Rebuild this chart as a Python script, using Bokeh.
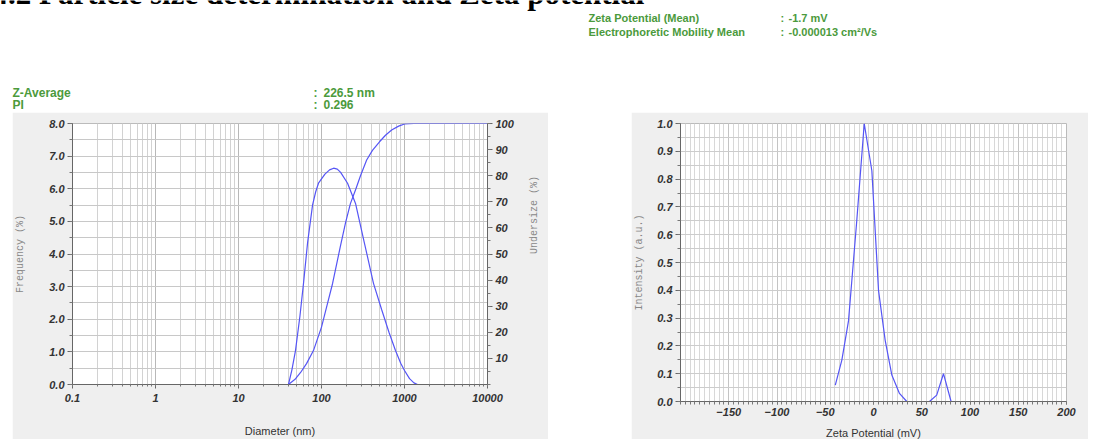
import math
import numpy as np
from bokeh.plotting import figure
from bokeh.models import (Range1d, LinearAxis, FixedTicker, NumeralTickFormatter,
                          CustomJSTickFormatter, Label, Spacer)
from bokeh.layouts import column, row
from bokeh.embed import file_html
from bokeh.resources import INLINE

# ---------------- data ----------------
size_nm = [0.1, 40, 44, 48.6, 55, 60.7, 68, 78, 85, 92, 110, 125, 140, 155, 170, 206,
           257, 330, 423, 530, 650, 779, 900, 1000, 1150, 1300, 1435, 10000]
frequency_pct = [0, 0, 0.45, 1.04, 2.1, 3.1, 4.35, 5.5, 5.9, 6.17, 6.45, 6.58, 6.63,
                 6.6, 6.5, 6.17, 5.55, 4.32, 3.1, 2.3, 1.6, 1.04, 0.65, 0.43, 0.18,
                 0.05, 0, 0]
cum_size_nm = [0.1, 40, 48, 56, 66, 80, 100, 118, 136, 169, 195, 223, 260, 295, 350,
               411, 500, 590, 700, 850, 1000, 1300, 10000]
undersize_pct = [0, 0, 2, 4.6, 8, 13, 22, 31, 38.7, 53, 62, 69.3, 75, 80, 86,
                 89.7, 93, 95.5, 97.5, 99, 99.8, 100, 100]

zeta_mv = [-39.6, -32.8, -25.9, -17.3, -9.6, -1.7, 5.2, 12.1, 19.0, 26.9, 34.5,
           46.0, 58.0, 65.5, 72.5, 80.4]
zeta_intensity = [0.059, 0.149, 0.29, 0.652, 1.0, 0.83, 0.40, 0.22, 0.095, 0.029, 0.0,
                  np.nan, 0.0, 0.023, 0.1, 0.0]

size_ticks = [0.1, 1, 10, 100, 1000, 10000]
freq_ticks = [0, 1, 2, 3, 4, 5, 6, 7, 8]
undersize_ticks = [10, 20, 30, 40, 50, 60, 70, 80, 90, 100]
zeta_ticks = [-150, -100, -50, 0, 50, 100, 150, 200]
intensity_ticks = [0.0, 0.1, 0.2, 0.3, 0.4, 0.5, 0.6, 0.7, 0.8, 0.9, 1.0]

heading = "4.2 Particle size determination and Zeta potential"
size_info = [("Z-Average", "226.5 nm"), ("PI", "0.296")]
zeta_info = [("Zeta Potential (Mean)", "-1.7 mV"),
             ("Electrophoretic Mobility Mean", "-0.000013 cm\u00b2/Vs")]

# ---------------- styles ----------------
GREEN = "#4b9a3c"
BLUE = "#5555f5"
GRAY_BG = "#efefef"
TICK_FONT = "Liberation Sans"
MONO = "Liberation Mono"


def style_axis(ax, tick_out=5, minor_out=3):
    ax.major_label_text_font = TICK_FONT
    ax.major_label_text_font_style = "bold italic"
    ax.major_label_text_font_size = "11px"
    ax.major_label_text_color = "#333333"
    ax.axis_line_color = "#666666"
    ax.major_tick_line_color = "#666666"
    ax.minor_tick_line_color = "#777777"
    ax.major_tick_out = tick_out
    ax.major_tick_in = 0
    ax.minor_tick_out = minor_out
    ax.minor_tick_in = 0
    ax.major_label_standoff = 3


def mono_title(ax, text, standoff):
    ax.axis_label = text
    ax.axis_label_text_font = MONO
    ax.axis_label_text_font_style = "normal"
    ax.axis_label_text_font_size = "10px"
    ax.axis_label_text_color = "#888888"
    ax.axis_label_standoff = standoff


def sans_title(ax, text, standoff):
    ax.axis_label = text
    ax.axis_label_text_font = TICK_FONT
    ax.axis_label_text_font_style = "normal"
    ax.axis_label_text_font_size = "11px"
    ax.axis_label_text_color = "#333333"
    ax.axis_label_standoff = standoff


# ---------------- header ----------------
hdr = figure(width=1085, height=112, x_range=Range1d(0, 1085), y_range=Range1d(112, 0),
             x_axis_type=None, y_axis_type=None, toolbar_location=None,
             output_backend="svg", min_border=0, outline_line_color=None,
             background_fill_color="white", border_fill_color="white")
hdr.add_layout(Label(x=-8, y=-7, text=heading, text_font="Liberation Serif",
                     text_font_style="bold", text_font_size="31px", text_color="black",
                     text_baseline="alphabetic"))
for i, (k, v) in enumerate(size_info):
    y = 92 + 12 * i
    for x, t in [(12, k), (313, ":"), (323, v)]:
        hdr.add_layout(Label(x=x, y=y, text=t, text_font=TICK_FONT, text_font_style="bold",
                             text_font_size="12px", text_color=GREEN, text_baseline="middle"))
for i, (k, v) in enumerate(zeta_info):
    y = 17 + 14 * i
    for x, t in [(588, k), (780, ":"), (788, v)]:
        hdr.add_layout(Label(x=x, y=y, text=t, text_font=TICK_FONT, text_font_style="bold",
                             text_font_size="11px", text_color=GREEN, text_baseline="middle"))

# ---------------- size distribution ----------------
pl = figure(frame_width=415, frame_height=261, min_border_left=60, min_border_right=61,
            min_border_top=11, min_border_bottom=55, x_axis_type="log",
            x_range=Range1d(0.1, 10000), y_range=Range1d(0, 8),
            toolbar_location=None, output_backend="svg",
            background_fill_color="white", border_fill_color=GRAY_BG,
            outline_line_color="#bbbbbb")
pl.extra_y_ranges = {"under": Range1d(0, 100)}

size_minor = [m * 10.0 ** k for k in range(-1, 4) for m in range(1, 10)] + [10000]
xt = FixedTicker(ticks=size_ticks, minor_ticks=size_minor)
pl.xaxis.ticker = xt
pl.xgrid.ticker = xt
pl.xaxis.formatter = CustomJSTickFormatter(code="return tick < 1 ? tick.toFixed(1) : tick.toFixed(0);")
yt = FixedTicker(ticks=freq_ticks, minor_ticks=[i * 0.5 for i in range(17)])
pl.yaxis.ticker = yt
pl.ygrid.ticker = yt
pl.yaxis.formatter = NumeralTickFormatter(format="0.0")

style_axis(pl.xaxis[0], tick_out=4, minor_out=2)
pl.xaxis.major_label_standoff = 5
sans_title(pl.xaxis[0], "Diameter (nm)", 20)
style_axis(pl.yaxis[0])
mono_title(pl.yaxis[0], "Frequency (%)", 20)

ax_r = LinearAxis(y_range_name="under",
                  ticker=FixedTicker(ticks=undersize_ticks, minor_ticks=list(range(0, 101, 5))))
style_axis(ax_r)
mono_title(ax_r, "Undersize (%)", 18)
if "axis_label_orientation" in ax_r.properties():
    ax_r.axis_label_orientation = math.pi / 2
pl.add_layout(ax_r, "right")

pl.xgrid.grid_line_color = "#b8b8b8"
pl.xgrid.minor_grid_line_color = "#d2d2d2"
pl.ygrid.grid_line_color = "#c8c8c8"
pl.ygrid.minor_grid_line_color = "#c8c8c8"

pl.line(size_nm, frequency_pct, line_color=BLUE, line_width=1.2)
pl.line(cum_size_nm, undersize_pct, y_range_name="under", line_color=BLUE, line_width=1.2)

# ---------------- zeta potential ----------------
pr = figure(frame_width=386, frame_height=278, min_border_left=46, min_border_right=22,
            min_border_top=8, min_border_bottom=41,
            x_range=Range1d(-200, 200), y_range=Range1d(0, 1),
            toolbar_location=None, output_backend="svg",
            background_fill_color="white", border_fill_color=GRAY_BG,
            outline_line_color="#bbbbbb")
zt = FixedTicker(ticks=zeta_ticks, minor_ticks=list(range(-200, 201, 5)))
pr.xaxis.ticker = zt
pr.xgrid.ticker = zt
it = FixedTicker(ticks=intensity_ticks, minor_ticks=[i * 0.05 for i in range(21)])
pr.yaxis.ticker = it
pr.ygrid.ticker = it
pr.yaxis.formatter = NumeralTickFormatter(format="0.0")
style_axis(pr.xaxis[0], tick_out=3, minor_out=3)
style_axis(pr.yaxis[0])
pr.xaxis.major_label_standoff = 3
sans_title(pr.xaxis[0], "Zeta Potential (mV)", 8)
mono_title(pr.yaxis[0], "Intensity (a.u.)", 9)
pr.xgrid.grid_line_color = "#c4c4c4"
pr.xgrid.minor_grid_line_color = "#d8d8d8"
pr.ygrid.grid_line_color = "#cccccc"
pr.ygrid.minor_grid_line_color = "#cccccc"

pr.line(np.array(zeta_mv), np.array(zeta_intensity, dtype=float), line_color=BLUE, line_width=1.2)

p = column(hdr, row(Spacer(width=12, height=10), pl, Spacer(width=83, height=10), pr))

open("out.html", "w").write(file_html(p, INLINE))
